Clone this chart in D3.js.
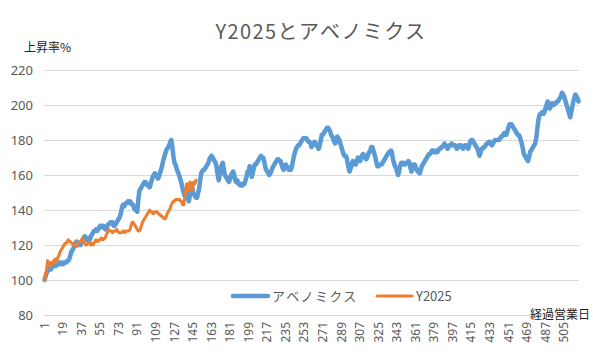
<!DOCTYPE html>
<html><head><meta charset="utf-8">
<script src="https://cdn.jsdelivr.net/npm/d3@7"></script>
<style>
body{margin:0;background:#fff;}
text{font-family:"Noto Sans CJK JP","Noto Sans",sans-serif;}
</style></head>
<body><svg id="c" width="593" height="352"></svg>
<script>
const title = "Y2025とアベノミクス";
const yAxisTitle = "上昇率%";
const xAxisTitle = "経過営業日";
const seriesNames = ["アベノミクス", "Y2025"];
const yTicks = [80, 100, 120, 140, 160, 180, 200, 220];

const abenomics = [
100,102,104,105,106,107,106,107,108,108,
109,108,109,109,110,109,110,110,109,110,
110,110,111,111,112,114,116,117,118,120,
121,122,121,120,121,120,122,123,124,125,
124,123,124,123,123,125,126,127,128,128,
129,128,129,130,131,131,130,131,130,129,
130,131,132,132,133,133,133,131,131,132,
133,134,135,136,138,141,143,142,143,144,
144,145,144,145,144,143,143,141,140,140,
139,146,151,152,153,154,155,156,156,155,
154,154,153,155,157,159,160,161,160,159,
158,159,161,163,165,168,170,172,174,175,
176,177,179,180,176,171,167,166,164,162,
161,159,157,155,152,150,148,150,151,147,
145,148,152,155,150,149,148,147,147,150,
152,157,161,162,163,163,164,165,166,167,
169,170,171,170,169,168,167,164,160,157,
160,164,166,167,163,160,159,158,157,156,
158,160,161,162,160,157,156,157,155,155,
154,155,154,155,155,157,159,162,162,165,
162,159,161,164,166,166,167,168,169,170,
171,170,170,168,165,163,162,161,160,161,
162,164,165,166,167,168,169,169,168,168,
166,164,163,164,166,165,164,163,164,163,
165,168,171,173,175,176,177,177,178,179,
180,181,181,181,181,180,179,179,178,176,
177,178,179,178,177,176,175,177,180,183,
183,184,185,186,187,187,186,185,183,182,
181,179,178,180,182,181,180,178,176,174,
172,171,171,170,167,164,162,164,166,168,
167,166,166,168,170,169,168,169,171,172,
171,170,169,170,172,173,174,176,176,174,
172,170,167,165,165,166,166,166,167,168,
169,170,171,172,173,173,174,173,169,167,
165,164,162,160,162,165,167,167,167,166,
166,167,167,168,167,164,162,164,166,166,
165,163,162,162,161,163,165,166,167,168,
169,170,171,172,172,173,174,174,173,173,
174,173,174,175,175,176,176,177,178,177,
176,175,176,177,177,178,177,177,177,176,
175,176,177,176,177,176,175,176,177,177,
176,175,177,179,180,180,179,178,177,176,
175,173,171,173,175,175,176,176,177,178,
178,179,179,178,177,178,179,180,180,180,
180,180,181,182,182,183,184,183,183,185,
187,189,189,189,188,187,186,185,184,183,
183,182,180,178,175,172,171,170,169,168,
170,173,174,175,176,177,178,181,186,191,
194,195,195,196,195,196,198,200,202,200,
198,199,201,201,200,201,201,202,202,203,
204,205,207,206,205,203,201,199,197,195,
193,196,199,202,204,206,205,204,202
];

const y2025 = [
100,103,106,111,109,108,110,109,110,111,
112,110,111,113,114,116,117,118,119,120,
121,121,122,123,122,122,121,121,121,120,
120,119,120,121,122,122,123,124,122,121,
120,120,121,121,121,120,121,120,121,122,
123,122,122,123,123,124,123,123,124,124,
126,127,129,128,128,128,127,128,128,128,
129,128,127,127,127,127,128,128,127,128,
128,128,128,129,131,133,133,132,131,130,
129,128,128,129,131,133,134,135,136,137,
138,139,140,139,139,138,138,139,139,139,
138,138,137,137,136,136,135,135,136,138,
139,140,141,143,144,145,145,146,146,146,
146,146,145,145,143,143,147,152,155,151,
153,156,152,151,154,156,155,157
];

const days = abenomics.map((_, i) => i + 1);
const xTickValues = days.filter(d => (d - 1) % 18 === 0);

const svg = d3.select("#c");
const L = 44, R = 579, T = 70, B = 315;

const x = d3.scaleBand().domain(days).range([L, R]);
const cx = d => x(d) + x.bandwidth() / 2;
const y = d3.scaleLinear().domain([80, 220]).range([B, T]);

// gridlines
svg.append("g").selectAll("line").data(yTicks).join("line")
  .attr("x1", L).attr("x2", R)
  .attr("y1", d => y(d)).attr("y2", d => y(d))
  .attr("stroke", "#d9d9d9").attr("stroke-width", 1).attr("shape-rendering", "crispEdges");

// y axis
const ya = svg.append("g").attr("transform", `translate(${L},0)`)
  .call(d3.axisLeft(y).tickValues(yTicks).tickSize(0).tickPadding(11));
ya.select(".domain").remove();
ya.selectAll("text").attr("fill", "#595959").style("font-size", "13px")
  .style("font-family", '"Noto Sans","Noto Sans CJK JP",sans-serif');

// x axis
const xa = svg.append("g").attr("transform", `translate(0,${B})`)
  .call(d3.axisBottom(x).tickValues(xTickValues).tickSize(0));
xa.select(".domain").remove();
xa.selectAll("text")
  .attr("transform", "rotate(-90)")
  .attr("x", -7).attr("y", 0).attr("dy", "0.35em")
  .style("text-anchor", "end")
  .attr("fill", "#595959").style("font-size", "12px")
  .style("font-family", '"Noto Sans","Noto Sans CJK JP",sans-serif');

// lines
const line = d3.line().x((v, i) => cx(days[i])).y(v => y(v));
svg.append("path").datum(abenomics).attr("d", line)
  .attr("fill", "none").attr("stroke", "#5b9bd5").attr("stroke-width", 4.5)
  .attr("stroke-linejoin", "round").attr("stroke-linecap", "round");
svg.append("path").datum(y2025).attr("d", line)
  .attr("fill", "none").attr("stroke", "#ed7d31").attr("stroke-width", 3)
  .attr("stroke-linejoin", "round").attr("stroke-linecap", "round");

// title
svg.append("text").attr("x", 321).attr("y", 39).attr("text-anchor", "middle")
  .attr("fill", "#595959").style("font-size", "20px").style("letter-spacing", "1.4px")
  .text(title);

svg.append("text").attr("x", 24).attr("y", 52).attr("fill", "#222")
  .style("font-size", "12px").text(yAxisTitle);

svg.append("text").attr("x", 590).attr("y", 319).attr("text-anchor", "end").attr("fill", "#222")
  .style("font-size", "12px").text(xAxisTitle);

// legend
const legend = [
  {name: seriesNames[0], color: "#5b9bd5", w: 4.5, x0: 233, ls: "1.4px"},
  {name: seriesNames[1], color: "#ed7d31", w: 3, x0: 377, ls: "0px"}
];
const lg = svg.append("g").selectAll("g").data(legend).join("g");
lg.append("line").attr("x1", d => d.x0).attr("x2", d => d.x0 + 35)
  .attr("y1", 296).attr("y2", 296).attr("stroke", d => d.color).attr("stroke-width", d => d.w)
  .attr("stroke-linecap", "round");
lg.append("text").attr("x", d => d.x0 + 39).attr("y", 301).attr("fill", "#595959")
  .style("font-size", "13px").style("letter-spacing", d => d.ls).text(d => d.name);
</script></body></html>
